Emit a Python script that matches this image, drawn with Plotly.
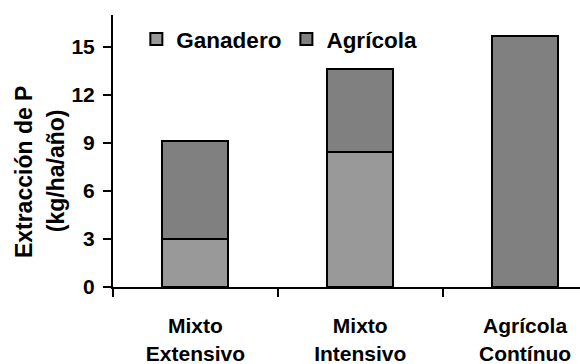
import plotly.graph_objects as go

categories = ["Mixto<br>Extensivo", "Mixto<br>Intensivo", "Agrícola<br>Contínuo"]
ganadero = [3.0, 8.45, None]
agricola = [6.1, 5.15, 15.7]
y_ticks = [0, 3, 6, 9, 12, 15]
y_title = ["Extracción de P", "(kg/ha/año)"]

FONT = "Liberation Sans, Arial, sans-serif"

fig = go.Figure()
fig.add_trace(go.Bar(x=categories, y=ganadero, name="Ganadero",
                     marker=dict(color="#999999", line=dict(color="black", width=2)),
                     width=0.4))
fig.add_trace(go.Bar(x=categories, y=agricola, name="Agrícola",
                     marker=dict(color="#808080", line=dict(color="black", width=2)),
                     width=0.4))

fig.update_layout(
    barmode="stack",
    width=580, height=364,
    margin=dict(l=113, r=0, t=15, b=77, autoexpand=False),
    paper_bgcolor="white", plot_bgcolor="white",
    font=dict(family=FONT, size=21, color="black", weight="bold"),
    showlegend=True,
    legend=dict(orientation="h", x=0.05, y=0.91, xanchor="left", yanchor="middle",
                traceorder="normal", font=dict(size=22.5, weight="bold"),
                bgcolor="rgba(0,0,0,0)", itemwidth=30),
    xaxis=dict(type="category", range=[-0.5, 2.333], showline=True, linecolor="black",
               linewidth=2, ticks="outside", tickson="boundaries", ticklen=8,
               tickwidth=2, tickcolor="black", showgrid=False, automargin=False,
               ticklabelstandoff=19,
               tickfont=dict(size=21, weight="bold")),
    yaxis=dict(range=[0, 17], showline=True, linecolor="black", linewidth=2,
               ticks="outside", ticklen=8, tickwidth=2, tickcolor="black",
               tickvals=y_ticks, showgrid=False, zeroline=False, automargin=False,
               ticklabelstandoff=4,
               tickfont=dict(size=21, weight="bold")),
    annotations=[
        dict(text=y_title[0], textangle=-90, xref="paper", yref="paper",
             x=-0.1906, y=0.426, xanchor="center", yanchor="middle", showarrow=False,
             font=dict(size=23, weight="bold")),
        dict(text=y_title[1], textangle=-90, xref="paper", yref="paper",
             x=-0.122, y=0.426, xanchor="center", yanchor="middle", showarrow=False,
             font=dict(size=23, weight="bold")),
    ],
)

fig.write_html("out.html", config={"displayModeBar": False},
               post_script="document.body.style.margin='0px';")
